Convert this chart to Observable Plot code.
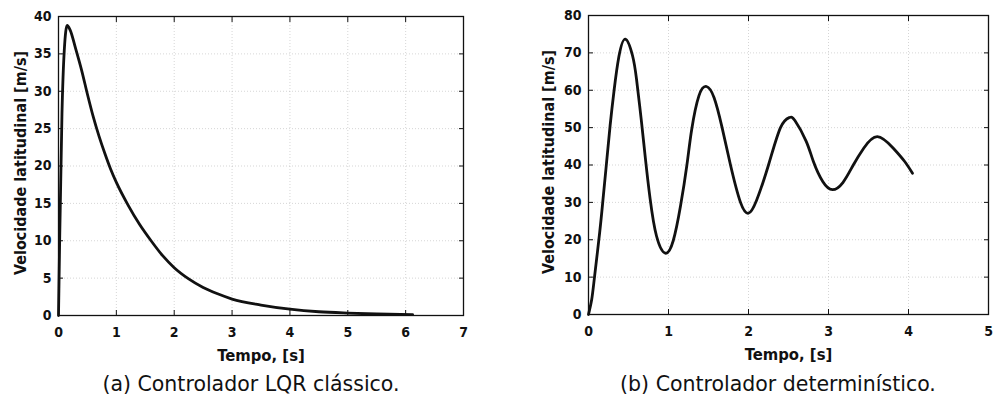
<!DOCTYPE html>
<html>
<head>
<meta charset="utf-8">
<script src="https://cdn.jsdelivr.net/npm/d3@7"></script>
<script src="https://cdn.jsdelivr.net/npm/@observablehq/plot@0.6"></script>
<style>
  html, body { margin: 0; padding: 0; background: #fff; }
  body { width: 994px; height: 407px; position: relative; overflow: hidden; }
  .panel { position: absolute; top: 0; }
  .caption { position: absolute; font-family: "DejaVu Sans", sans-serif; font-size: 20.5px; line-height: 24px; color: #111; white-space: nowrap; transform: translateX(-50%); }
</style>
</head>
<body>
<div id="a" class="panel" style="left:0px"></div>
<div id="b" class="panel" style="left:500px"></div>
<div class="caption" style="left:251px; top:372px">(a) Controlador LQR clássico.</div>
<div class="caption" style="left:778px; top:372px">(b) Controlador determinístico.</div>
<script>
// Panel (a): classic LQR controller
const lqrTime  = [0, 0.02, 0.06, 0.1, 0.15, 0.2, 0.3, 0.4, 0.5, 0.6, 0.7, 0.8, 0.9, 1.0, 1.2, 1.4, 1.6, 1.8, 2.0, 2.25, 2.5, 2.75, 3.0, 3.5, 4.0, 4.5, 5.0, 5.5, 6.12];
const lqrSpeed = [0, 10, 27, 35.5, 38.8, 38.2, 35.6, 32.8, 29.6, 26.6, 24.0, 21.7, 19.6, 17.8, 14.8, 12.2, 10.0, 8.0, 6.4, 4.9, 3.75, 2.9, 2.2, 1.4, 0.85, 0.5, 0.32, 0.2, 0.12];

// Panel (b): deterministic controller
const detTime  = [0, 0.04, 0.075, 0.14, 0.18, 0.225, 0.27, 0.32, 0.38, 0.46, 0.55, 0.6, 0.66, 0.71, 0.77, 0.85, 0.96, 1.06, 1.15, 1.23, 1.29, 1.38, 1.475, 1.57, 1.67, 1.775, 1.9, 2.0, 2.1, 2.25, 2.4, 2.51, 2.58, 2.72, 2.81, 2.93, 3.05, 3.18, 3.31, 3.44, 3.61, 3.81, 3.95, 4.05];
const detSpeed = [0, 4, 10, 22, 30.5, 40.5, 50.5, 60, 69, 73.7, 69.3, 63, 52, 42, 31, 21, 16.4, 19.8, 29, 40, 49.5, 58.5, 61, 58, 50, 40, 30, 27.1, 30.5, 40, 50, 52.7, 51.9, 46.4, 41, 35.5, 33.4, 35.3, 40, 44.5, 47.6, 44.5, 41, 37.8];

const xTicksA = [0, 1, 2, 3, 4, 5, 6, 7];
const yTicksA = [0, 5, 10, 15, 20, 25, 30, 35, 40];
const xTicksB = [0, 1, 2, 3, 4, 5];
const yTicksB = [0, 10, 20, 30, 40, 50, 60, 70, 80];

const yLabel = "Velocidade latitudinal [m/s]";
const xLabel = "Tempo, [s]";

const FONT = '"DejaVu Sans Condensed", "DejaVu Sans", sans-serif';

function panel(times, speeds, xTicks, yTicks, opts) {
  const data = times.map((t, i) => ({t, v: speeds[i]}));
  const xDom = [xTicks[0], xTicks[xTicks.length - 1]];
  const yDom = [yTicks[0], yTicks[yTicks.length - 1]];
  return Plot.plot({
    width: opts.width,
    height: 370,
    marginLeft: opts.ml,
    marginRight: opts.mr,
    marginTop: opts.mt,
    marginBottom: 370 - opts.bottom,
    style: {fontFamily: FONT, fontSize: "14px", fontWeight: "bold", color: "#111", background: "transparent"},
    x: {domain: xDom},
    y: {domain: yDom},
    marks: [
      Plot.gridX(xTicks, {stroke: "#999", strokeOpacity: 0.4, strokeDasharray: "1,2"}),
      Plot.gridY(yTicks, {stroke: "#999", strokeOpacity: 0.4, strokeDasharray: "1,2"}),
      Plot.axisX(xTicks, {anchor: "bottom", tickSize: -5, tickPadding: 17, label: null}),
      Plot.axisX(xTicks, {anchor: "top", tickSize: -5, tickFormat: () => "", label: null}),
      Plot.axisY(yTicks, {anchor: "left", tickSize: -5, tickPadding: 12, label: null}),
      Plot.axisY(yTicks, {anchor: "right", tickSize: -5, tickFormat: () => "", label: null}),
      Plot.text([xLabel], {frameAnchor: "bottom", dy: 40, lineAnchor: "middle", textAnchor: "middle", fontSize: 16.5, fontWeight: "bold", fill: "#111"}),
      Plot.text([yLabel], {frameAnchor: "left", dx: opts.labelDx, dy: -3, rotate: -90, lineAnchor: "middle", textAnchor: "middle", fontSize: 16, fontWeight: "bold", fill: "#111"}),
      Plot.frame({stroke: "#111", strokeWidth: 1.3}),
      Plot.line(data, {x: "t", y: "v", curve: opts.curve, stroke: "#111", strokeWidth: 2.8})
    ]
  });
}

document.getElementById("a").append(panel(lqrTime, lqrSpeed, xTicksA, yTicksA, {width: 475, ml: 58, mr: 12, mt: 16, bottom: 315, labelDx: -38, curve: "monotone-x"}));
document.getElementById("b").append(panel(detTime, detSpeed, xTicksB, yTicksB, {width: 494, ml: 88, mr: 6, mt: 15, bottom: 314, labelDx: -40, curve: "natural"}));
</script>
</body>
</html>
